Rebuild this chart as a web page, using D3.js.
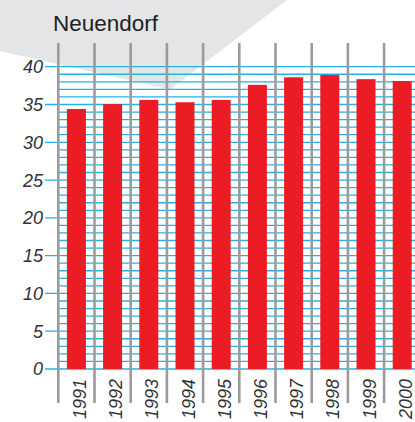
<!DOCTYPE html>
<html>
<head>
<meta charset="utf-8">
<script src="https://cdn.jsdelivr.net/npm/d3@7"></script>
<style>
  body { margin: 0; background: #fff; }
  svg { display: block; }
</style>
</head>
<body>
<svg id="chart"></svg>
<script>
var title = "Neuendorf";
var years = ["1991", "1992", "1993", "1994", "1995", "1996", "1997", "1998", "1999", "2000"];
var values = [34.4, 35.05, 35.6, 35.3, 35.6, 37.6, 38.6, 38.9, 38.35, 38.1];
var yTicks = [0, 5, 10, 15, 20, 25, 30, 35, 40];
var gridSteps = d3.range(0, 41, 1);

var width = 415, height = 422;
var svg = d3.select("#chart")
    .attr("width", width)
    .attr("height", height);

var font = "'Liberation Sans', Arial, Helvetica, sans-serif";

// grey backdrop wedge
svg.append("path")
    .attr("d", "M0,0 L287,0 L170,89.5 L0,51 Z")
    .attr("fill", "#e4e5e7");

var xScale = d3.scaleBand()
    .domain(years)
    .range([58.3, 58.3 + 36.2 * years.length])
    .padding(0);

var barScale = d3.scaleBand()
    .domain(years)
    .range(xScale.range())
    .paddingInner(0.475)
    .paddingOuter(0.2375);

var yScale = d3.scaleLinear()
    .domain([0, 40])
    .range([369, 66.7]);

// blue grid lines, every 1 unit; longer at labelled values
svg.append("g")
    .selectAll("line")
    .data(gridSteps)
    .enter().append("line")
    .attr("x1", function (d) { return d % 5 === 0 ? 45 : 58; })
    .attr("x2", width)
    .attr("y1", function (d) { return yScale(d); })
    .attr("y2", function (d) { return yScale(d); })
    .attr("stroke", "#22b2e6")
    .attr("stroke-width", 1.3);

// bars
svg.append("g")
    .selectAll("rect")
    .data(values)
    .enter().append("rect")
    .attr("x", function (d, i) { return barScale(years[i]); })
    .attr("width", barScale.bandwidth())
    .attr("y", function (d) { return yScale(d); })
    .attr("height", function (d) { return yScale(0) - yScale(d); })
    .attr("fill", "#ec1c24");

// grey vertical separators
svg.append("g")
    .selectAll("line")
    .data(years)
    .enter().append("line")
    .attr("x1", function (d) { return xScale(d); })
    .attr("x2", function (d) { return xScale(d); })
    .attr("y1", 43)
    .attr("y2", 403)
    .attr("stroke", "#9b9b9d")
    .attr("stroke-width", 2.6);

// y labels
svg.append("g")
    .selectAll("text")
    .data(yTicks)
    .enter().append("text")
    .attr("x", 43)
    .attr("y", function (d) { return yScale(d); })
    .attr("dy", "0.36em")
    .attr("text-anchor", "end")
    .style("font-family", font)
    .style("font-style", "italic")
    .style("font-size", "18px")
    .attr("fill", "#333")
    .text(function (d) { return d; });

// year labels, rotated
svg.append("g")
    .selectAll("text")
    .data(years)
    .enter().append("text")
    .attr("transform", function (d) {
        return "translate(" + (xScale(d) + xScale.bandwidth() / 2 + 9.5) + ",379)rotate(-90)";
    })
    .attr("text-anchor", "end")
    .style("font-family", font)
    .style("font-style", "italic")
    .style("font-size", "18px")
    .attr("fill", "#333")
    .text(function (d) { return d; });

svg.append("text")
    .attr("x", 53)
    .attr("y", 31)
    .style("font-family", font)
    .style("font-size", "22.5px")
    .attr("fill", "#222")
    .text(title);
</script>
</body>
</html>
